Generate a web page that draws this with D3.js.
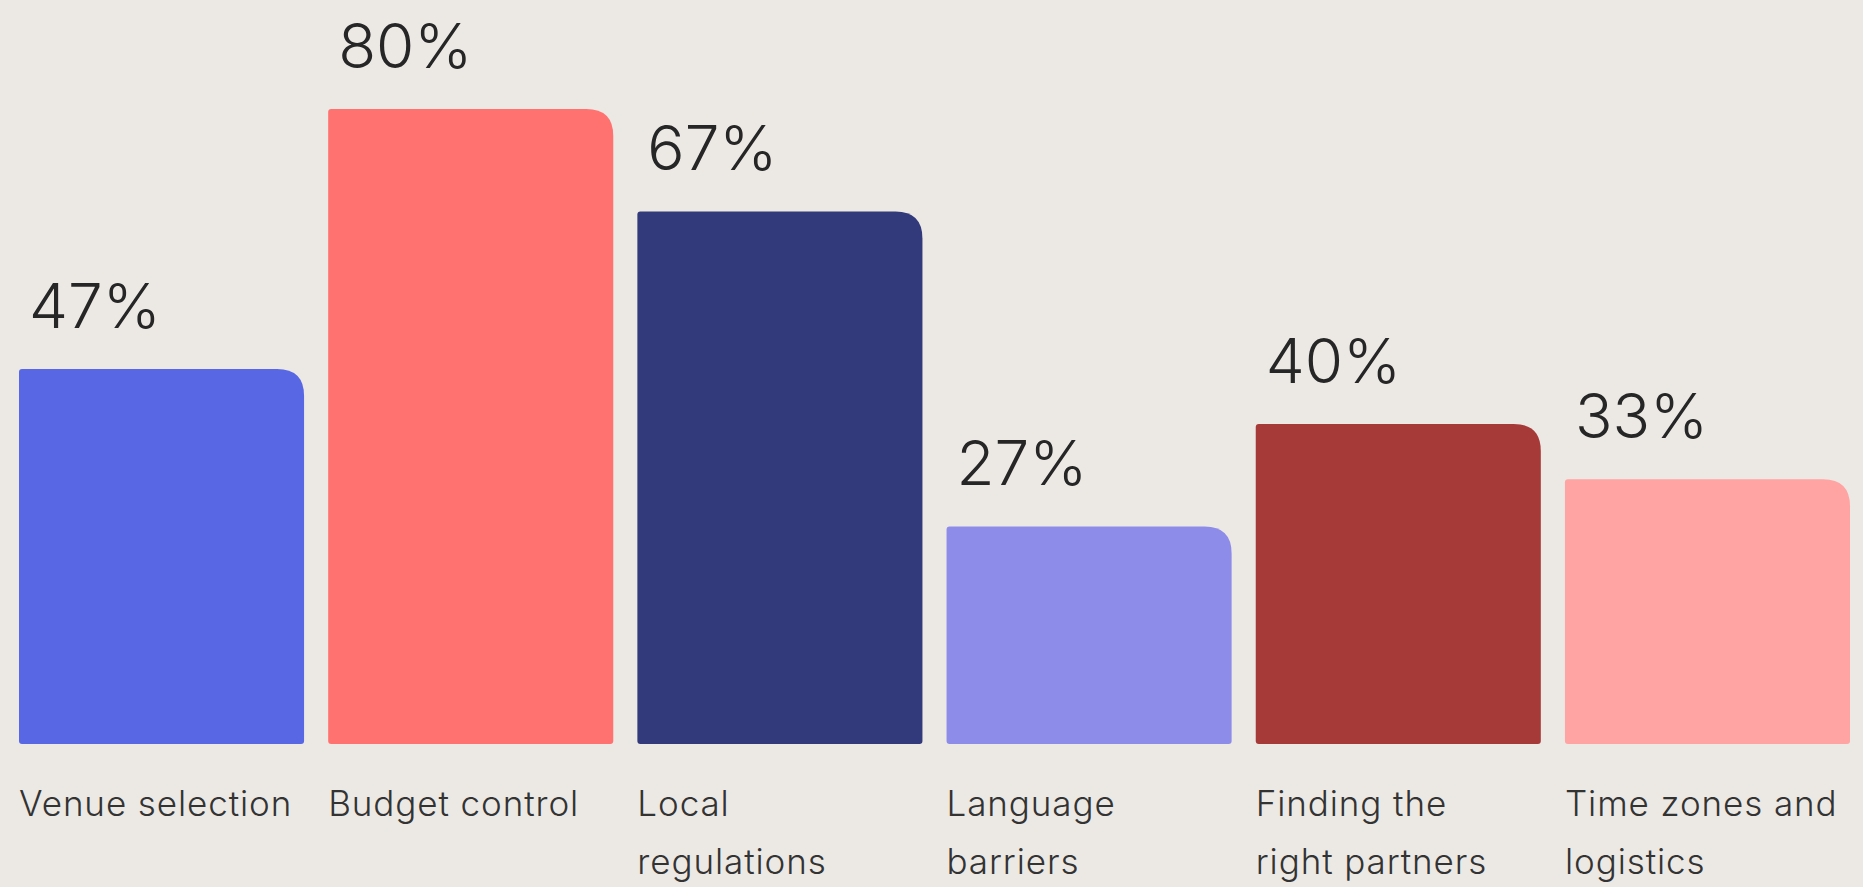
<!DOCTYPE html>
<html>
<head>
<meta charset="utf-8">
<script src="https://cdn.jsdelivr.net/npm/d3@7"></script>
<style>
  html, body { margin: 0; padding: 0; background: #ECE9E5; }
  #chart { width: 1863px; height: 887px; }
</style>
</head>
<body>
<div id="chart"></div>
<script>
// Survey bars: share of respondents naming each challenge
const categories = ["Venue selection", "Budget control", "Local\nregulations", "Language\nbarriers", "Finding the\nright partners", "Time zones and\nlogistics"];
const values = [47, 80, 67, 27, 40, 33];
const colors = ["#5868E4", "#FF7270", "#323A7B", "#8E8CE9", "#A63A39", "#FFA3A3"];

(function() {
  "use strict";

  const width = 1863, height = 887;
  const baseY = 744; // bottom of the bars

  const svg = d3.select("#chart").append("svg")
      .attr("width", width)
      .attr("height", height)
      .attr("viewBox", [0, 0, width, height]);

  const data = categories.map((c, i) => ({ label: c, value: values[i], color: colors[i] }));

  const x = d3.scaleBand()
      .domain(categories)
      .range([19, 1850])
      .paddingInner(0.078)
      .paddingOuter(0);

  // bars keep a small stub below the zero line, like the original
  const y = d3.scaleLinear()
      .domain([0, 80])
      .range([739, 109]);

  // bar outline: big rounded top-right corner, tiny radius elsewhere
  function barPath(x0, y0, w, h) {
    const R = 27, r = 3;
    return `M${x0},${y0 + r}Q${x0},${y0} ${x0 + r},${y0}` +
      `H${x0 + w - R}Q${x0 + w},${y0} ${x0 + w},${y0 + R}` +
      `V${y0 + h - r}Q${x0 + w},${y0 + h} ${x0 + w - r},${y0 + h}` +
      `H${x0 + r}Q${x0},${y0 + h} ${x0},${y0 + h - r}Z`;
  }

  svg.append("g")
    .selectAll("path")
    .data(data)
    .join("path")
      .attr("fill", d => d.color)
      .attr("d", d => barPath(x(d.label), y(d.value), x.bandwidth(), baseY - y(d.value)));

  // value labels above each bar
  svg.append("g")
      .attr("font-family", "Inter, 'Noto Sans', sans-serif")
      .attr("font-weight", 300)
      .attr("font-size", 62)
      .attr("fill", "#262626")
    .selectAll("text")
    .data(data)
    .join("text")
      .attr("x", d => x(d.label) + 10)
      .attr("y", d => y(d.value) - 41)
      .text(d => d.value + "%");

  // category labels under the bars
  const labels = svg.append("g")
      .attr("font-family", "Inter, 'Noto Sans', sans-serif")
      .attr("font-weight", 300)
      .attr("font-size", 35)
      .attr("letter-spacing", 0.9)
      .attr("fill", "#333")
    .selectAll("text")
    .data(data)
    .join("text")
      .attr("x", d => x(d.label))
      .attr("y", 816);

  labels.selectAll("tspan")
    .data(d => d.label.split("\n").map(t => ({ t, x0: x(d.label) })))
    .join("tspan")
      .attr("x", d => d.x0)
      .attr("dy", (d, i) => i ? 58 : 0)
      .text(d => d.t);
})();
</script>
</body>
</html>
